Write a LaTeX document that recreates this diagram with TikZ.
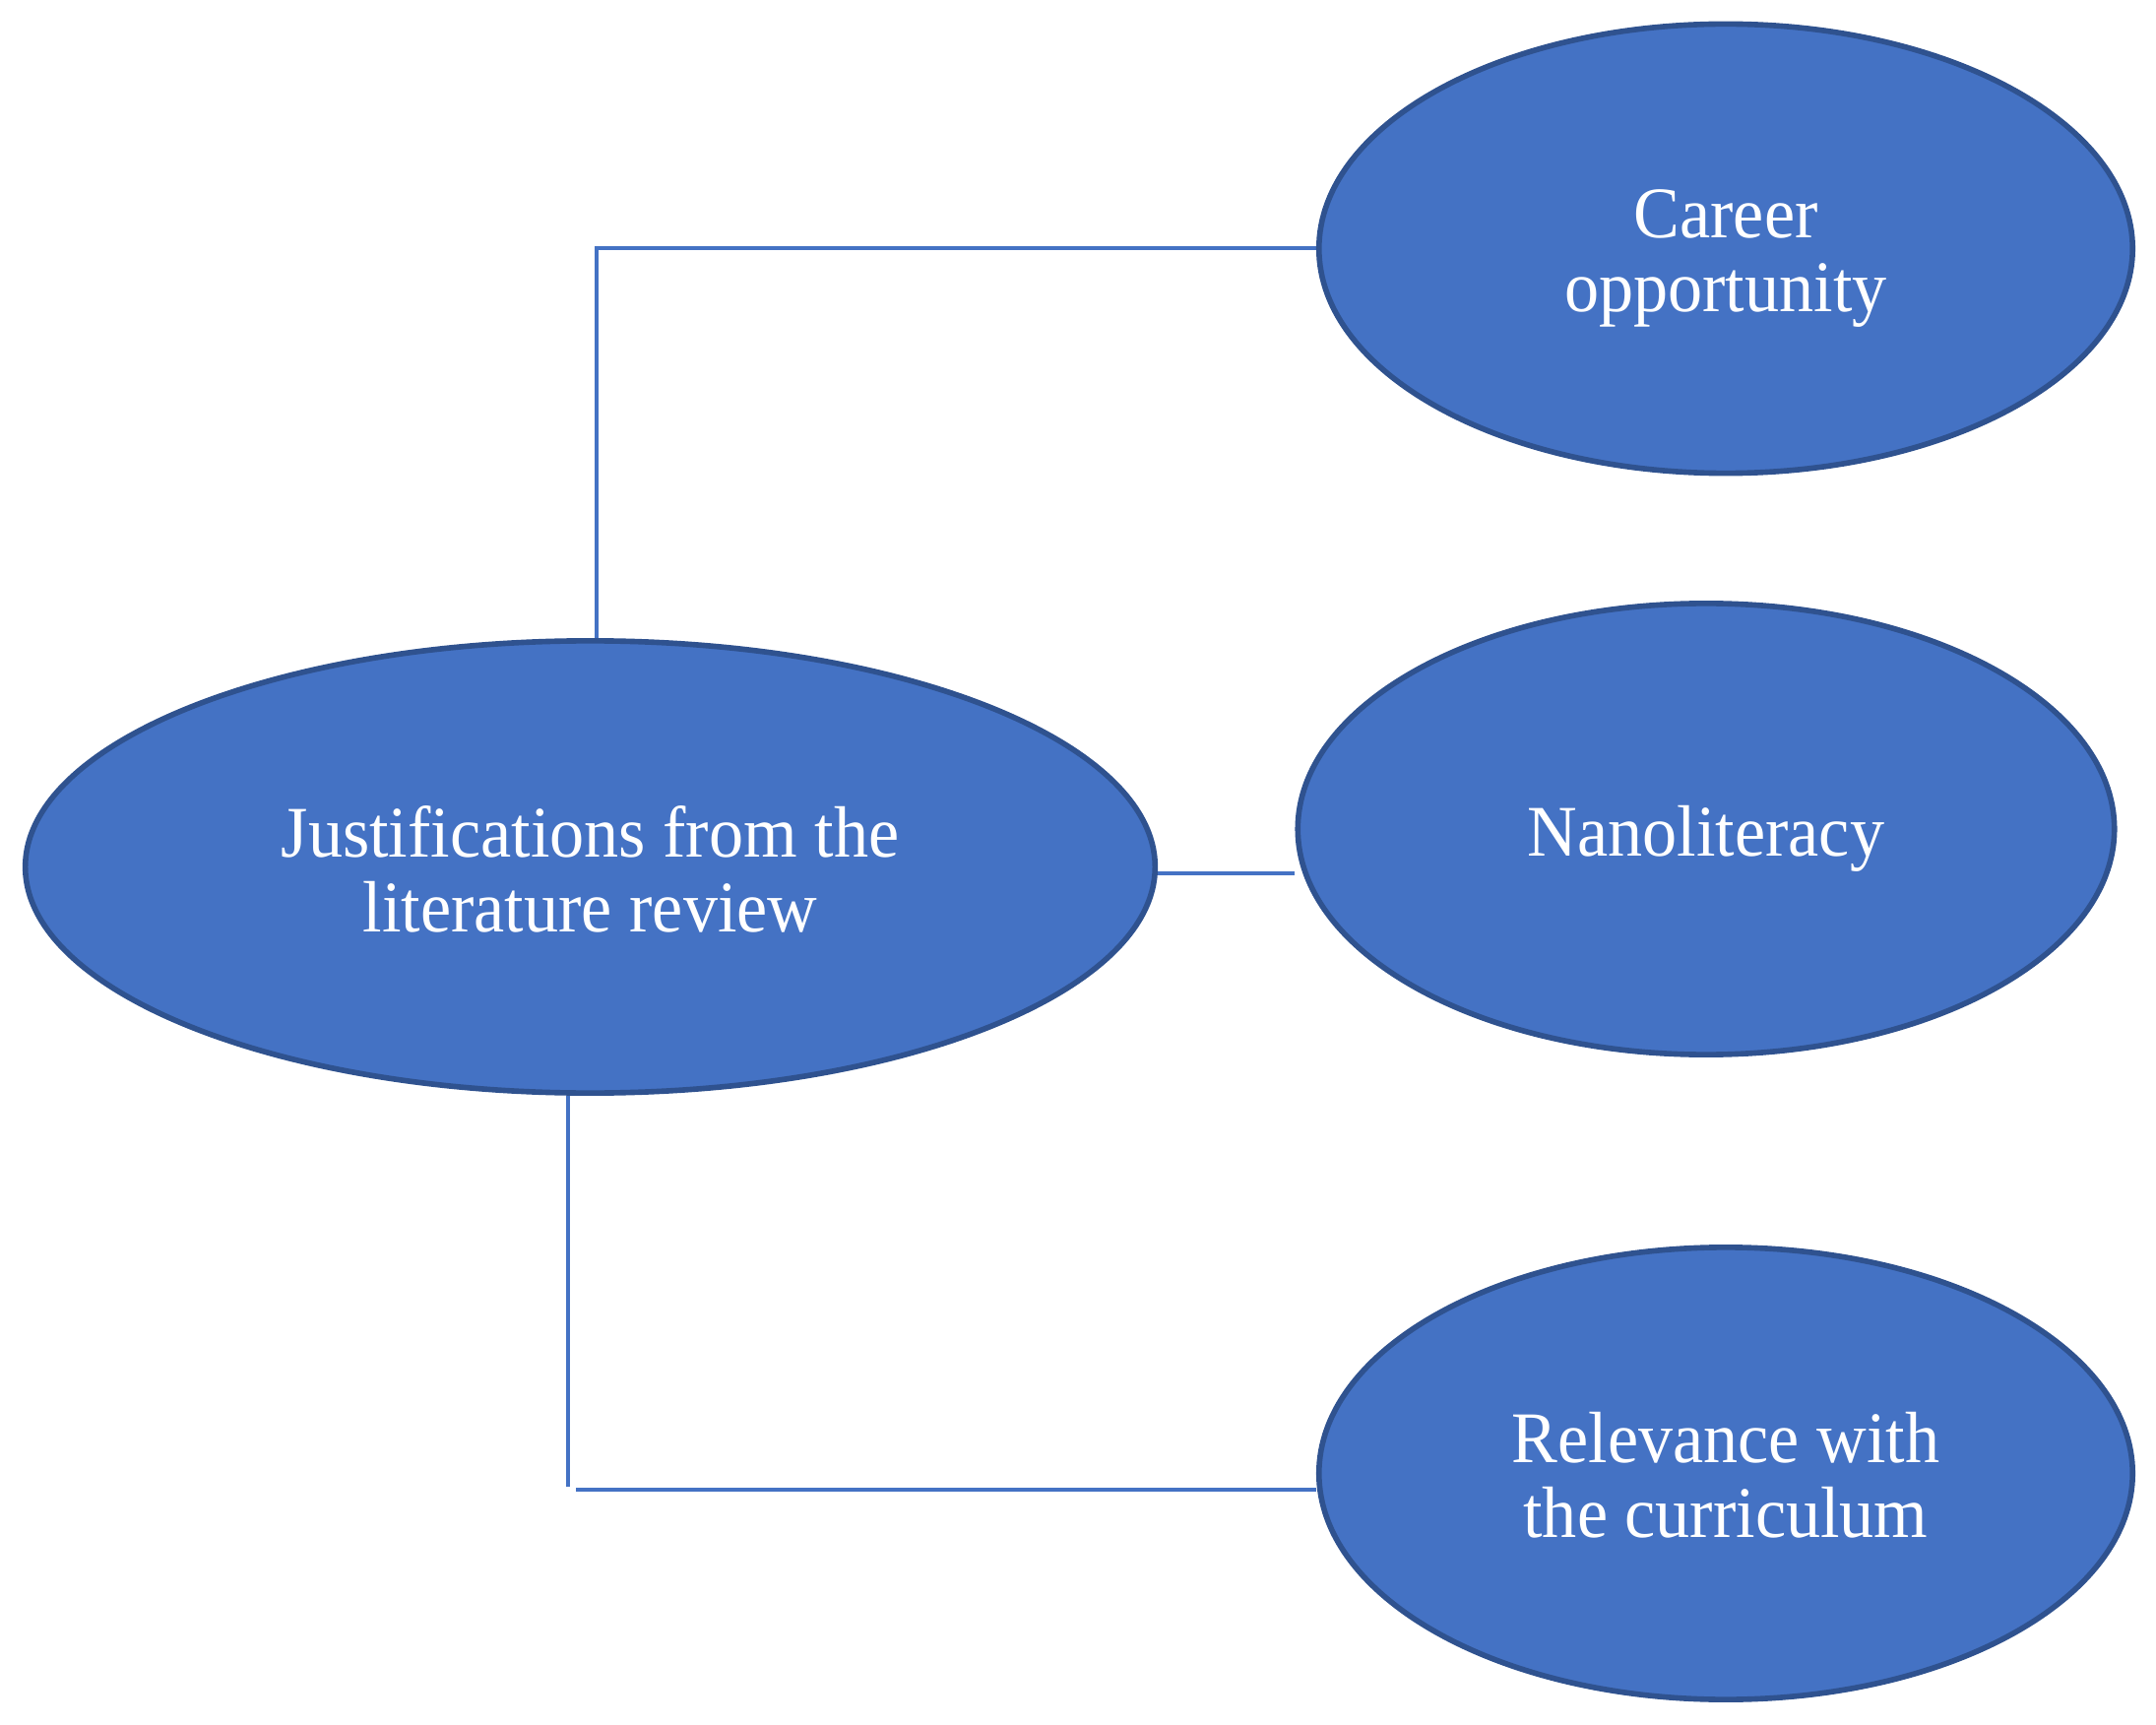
\documentclass[tikz,border=0pt]{standalone}
\usepackage{fontspec}
\setmainfont{Liberation Serif}[FakeStretch=0.95]
\usetikzlibrary{shapes.geometric,backgrounds}
\definecolor{ovalfill}{HTML}{4472C4}
\definecolor{ovalborder}{HTML}{2F528F}
\definecolor{linkcol}{HTML}{4472C4}
\begin{document}
\begin{tikzpicture}[x=0.01cm,y=-0.01cm,
  oval/.style={ellipse, draw=ovalborder, fill=ovalfill, line width=1.6pt,
    inner sep=0pt},
  txt/.style={inner sep=0pt, text=white, align=center,
    font=\fontsize{21}{21.6}\selectfont},
  link/.style={draw=linkcol, line width=1.1pt}]
\useasboundingbox (0,0) rectangle (2190,1752);
\node[oval, minimum width=11.47cm, minimum height=4.59cm] (just) at (599.5,880.5) {};
\node[oval, minimum width=8.26cm, minimum height=4.56cm] (career) at (1753,252.5) {};
\node[oval, minimum width=8.29cm, minimum height=4.58cm] (nano) at (1733,842) {};
\node[oval, minimum width=8.26cm, minimum height=4.59cm] (rel) at (1753,1496.5) {};
\node[txt] (just-t) at ([yshift=-0.02cm]just.center) {Justifications from the\\literature review};
\node[txt] (career-t) at ([yshift=-0.10cm]career.center) {Career\\opportunity};
\node[txt] (nano-t) at ([yshift=-0.10cm]nano.center) {Nanoliteracy};
\node[txt] (rel-t) at ([yshift=-0.02cm]rel.center) {Relevance with\\the curriculum};
\coordinate (c1) at (606,252);
\coordinate (m1) at (1176,887);
\coordinate (b1) at (577,1510);
\coordinate (b2) at (585,1513);
\begin{scope}[on background layer]
\draw[link] (c1 |- just.north) -- (c1) -- (career.west |- c1);
\draw[link] (just.east |- m1) -- (nano.west |- m1);
\draw[link] (b1 |- just.south) -- (b1);
\draw[link] (b2) -- (rel.west |- b2);
\end{scope}
\end{tikzpicture}
\end{document}
